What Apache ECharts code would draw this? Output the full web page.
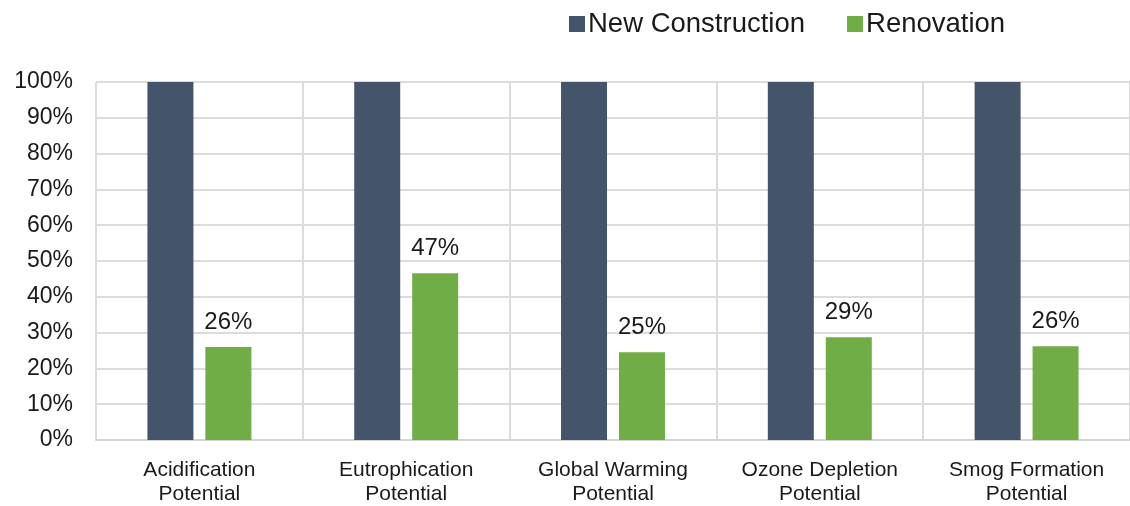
<!DOCTYPE html>
<html>
<head>
<meta charset="utf-8">
<script src="https://cdn.jsdelivr.net/npm/echarts@6/dist/echarts.min.js"></script>
<style>
html,body{margin:0;padding:0;background:#fff;overflow:hidden;}
#chart{width:1130px;height:506px;}
</style>
</head>
<body>
<div id="chart"></div>
<script>
const categories = ["Acidification\nPotential", "Eutrophication\nPotential", "Global Warming\nPotential", "Ozone Depletion\nPotential", "Smog Formation\nPotential"];
const newConstruction = [1.00, 1.00, 1.00, 1.00, 1.00];
const renovation = [0.26, 0.466, 0.245, 0.287, 0.262];
const seriesNames = ["New Construction", "Renovation"];
const yTicks = [0, 0.1, 0.2, 0.3, 0.4, 0.5, 0.6, 0.7, 0.8, 0.9, 1.0];

const FONT = "Liberation Sans, Arial, sans-serif";
const TXT = "#1a1a1a";
const chart = echarts.init(document.getElementById('chart'));
chart.setOption({
  animation: false,
  backgroundColor: '#fff',
  textStyle: { fontFamily: FONT },
  legend: {
    data: seriesNames,
    left: 564, top: 5,
    itemWidth: 16, itemHeight: 16, itemGap: 42,
    icon: 'rect',
    textStyle: { fontSize: 27.5, color: TXT, fontFamily: FONT, padding: [0, 0, 0, -2] }
  },
  grid: { left: 96, top: 82, width: 1037, height: 362, containLabel: false },
  xAxis: {
    type: 'category',
    data: categories,
    boundaryGap: true,
    axisTick: { show: false },
    axisLine: { show: true, lineStyle: { color: '#d4d4d4', width: 2 } },
    axisLabel: { color: TXT, fontSize: 21, lineHeight: 24, margin: 18, fontFamily: FONT, interval: 0 },
    splitLine: { show: true, interval: 0, lineStyle: { color: '#dcdcdc', width: 2 } }
  },
  yAxis: {
    type: 'value',
    min: 0, max: 1, interval: 0.1,
    axisLine: { show: false },
    axisTick: { show: false },
    axisLabel: { color: TXT, fontSize: 23, margin: 23, fontFamily: FONT,
      formatter: v => Math.round(v * 100) + '%' },
    splitLine: { show: true, lineStyle: { color: '#dcdcdc', width: 2 } }
  },
  series: [
    {
      name: seriesNames[0], type: 'bar', data: newConstruction,
      barWidth: 46, barGap: '26%',
      itemStyle: { color: '#44546A' }
    },
    {
      name: seriesNames[1], type: 'bar', data: renovation,
      barWidth: 46,
      itemStyle: { color: '#70AD47' },
      label: { show: true, position: 'top', distance: 13, fontSize: 24, color: TXT, fontFamily: FONT,
        formatter: p => Math.round(p.value * 100) + '%' }
    }
  ]
});
</script>
</body>
</html>
